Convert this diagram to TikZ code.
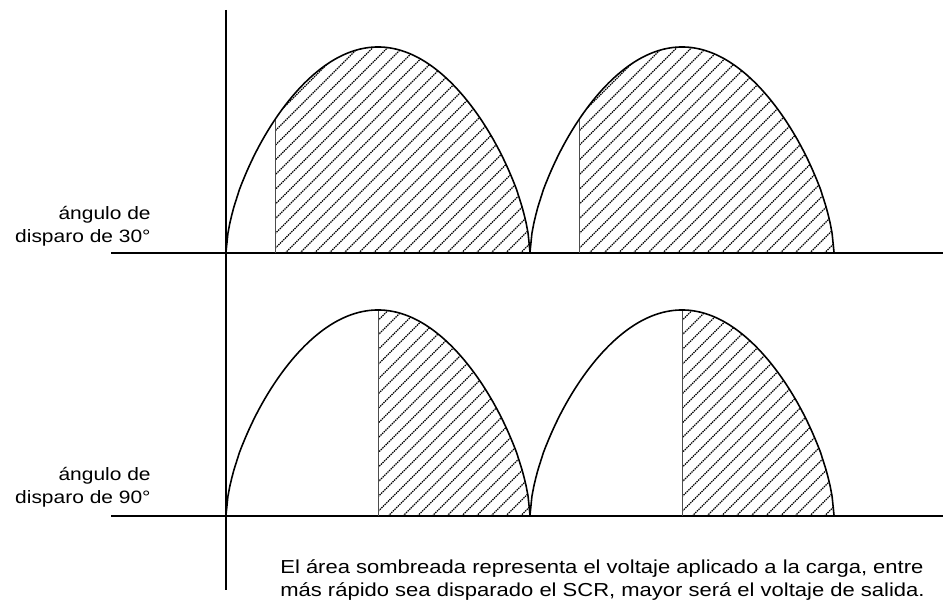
\documentclass[tikz,border=0pt]{standalone}
\usepackage{fontspec}
\setmainfont{Liberation Sans}[FakeStretch=1.17]
\usetikzlibrary{calc}

\begin{document}
\begin{tikzpicture}
[
    x=0.02cm, y=-0.02cm,
    axis/.style={line width=0.9pt},
    wave/.style={line width=0.9pt},
    fireline/.style={line width=0.5pt, black!70},
    hatch/.style={line width=0.7pt, dash pattern=on 0.8pt off 0.5pt},
    label/.style={font=\fontsize{10.2}{13}\selectfont, inner sep=0pt},
    note/.style={font=\fontsize{10.7}{13}\selectfont, inner sep=0pt}
]
\useasboundingbox (0,0) rectangle (943,604);
% scale
\pgfmathsetmacro{\T}{304} % half period
\pgfmathsetmacro{\A}{206} % amplitude
\pgfmathsetmacro{\w}{180/\T} % degrees per unit
\pgfmathsetmacro{\p}{0.6} % rounding of the half wave

% axes
\draw[axis] (226,10) -- (226,590);
\draw[axis] (111,253) -- (943,253);
\draw[axis] (111,516) -- (943,516);

% half waves, hatched from the firing angle on
\foreach \b/\f in {253/49, 516/152} {
  \foreach \s in {226, 530} {
    \pgfmathsetmacro{\xa}{\s+\f}
    \pgfmathsetmacro{\xe}{\s+\T}
    \pgfmathsetmacro{\ya}{\b-\A*pow(max(sin(\w*\f),0.0001),\p)}
    \begin{scope}
      \clip (\xa,\b) -- plot[domain=\xa:\xe, samples=120] (\x,{\b-\A*pow(max(sin(\w*(\x-\s)),0.0001),\p)}) -- cycle;
      \foreach \k in {0,...,45}
        \draw[hatch] (\xa-230+\k*14.7,\b+5) -- ++(240,-240);
    \end{scope}
    \draw[fireline] (\xa,\b) -- (\xa,\ya);
    \draw[wave] plot[domain=\s:\xe, samples=160] (\x,{\b-\A*pow(max(sin(\w*(\x-\s)),0.0001),\p)});
  }
}

% labels
\node[label, align=right, anchor=east] (lab30) at (151,226) {ángulo de\\disparo de 30°};
\node[label, align=right, anchor=east] (lab90) at (151,487) {ángulo de\\disparo de 90°};
\node[note, align=left, anchor=north west] (note) at (280,559)
  {El área sombreada representa el voltaje aplicado a la carga, entre\\más rápido sea disparado el SCR, mayor será el voltaje de salida.};
\end{tikzpicture}
\end{document}
